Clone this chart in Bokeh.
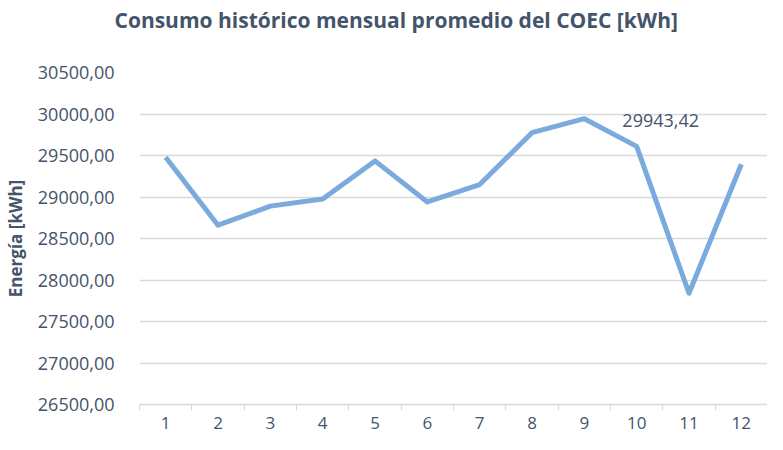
from bokeh.plotting import figure
from bokeh.embed import file_html
from bokeh.resources import INLINE
from bokeh.models import FixedTicker, Range1d, ColumnDataSource, Title
from bokeh.core.properties import value

title_text = "Consumo histórico mensual promedio del COEC [kWh]"
months = [1, 2, 3, 4, 5, 6, 7, 8, 9, 10, 11, 12]
consumo = [29480, 28660, 28890, 28975, 29435, 28940, 29150, 29775, 29943.42, 29610, 27840, 29395]
y_ticks = [26500, 27000, 27500, 28000, 28500, 29000, 29500, 30000, 30500]
label_month = [9]
label_value = [29943.42]

def fmt(v):
    return f"{v:.2f}".replace(".", ",")

FONT = "Open Sans"
TXT = "#44546A"
GRID = "#D9D9D9"

W, H = 767, 434
LEFT, TOP, BOTTOM = 138, 72, 30

p = figure(width=W, height=H, output_backend="svg", toolbar_location=None,
           x_range=Range1d(0.5, 12.5), y_range=Range1d(26500, 30500),
           min_border_left=LEFT, min_border_right=0, min_border_top=TOP, min_border_bottom=BOTTOM)
p.outline_line_color = None
p.title.text = ""

# spacer between frame and title, then the real title (stacked outward)
p.add_layout(Title(text=" ", text_font_size="1px", standoff=36), "above")
p.add_layout(Title(text=title_text, text_font=FONT, text_font_size="21px",
                   text_font_style="bold", text_color=TXT, align="left",
                   offset=-25, standoff=0), "above")

p.line(months, consumo, line_color="#7BAADD", line_width=5, line_join="round")

src = ColumnDataSource(dict(x=label_month, y=label_value, t=[fmt(v) for v in label_value]))
p.text("x", "y", text="t", source=src, x_offset=38, y_offset=2,
       text_font=value(FONT), text_font_size="18px", text_color=TXT,
       text_baseline="middle", text_align="left")

# x axis
p.xaxis.ticker = FixedTicker(ticks=months, minor_ticks=[m + 0.5 for m in [0] + months])
p.xaxis.major_label_overrides = {m: str(m) for m in months}
p.xaxis.major_tick_line_color = None
p.xaxis.minor_tick_line_color = GRID
p.xaxis.minor_tick_in = 0
p.xaxis.minor_tick_out = 6
p.xaxis.axis_line_color = GRID
p.xaxis.axis_line_width = 1.5
p.xaxis.major_label_text_font = FONT
p.xaxis.major_label_text_font_size = "17px"
p.xaxis.major_label_text_color = TXT
p.xaxis.major_label_standoff = 6

# y axis
p.yaxis.ticker = FixedTicker(ticks=y_ticks)
p.yaxis.major_label_overrides = {t: fmt(t) for t in y_ticks}
p.yaxis.axis_line_color = None
p.yaxis.major_tick_line_color = None
p.yaxis.minor_tick_line_color = None
p.yaxis.major_label_text_font = FONT
p.yaxis.major_label_text_font_size = "18px"
p.yaxis.major_label_text_color = TXT
p.yaxis.major_label_standoff = 19
p.yaxis.axis_label = "Energía [kWh]"
p.yaxis.axis_label_text_font = FONT
p.yaxis.axis_label_text_font_style = "bold"
p.yaxis.axis_label_text_font_size = "17px"
p.yaxis.axis_label_text_color = TXT
p.yaxis.axis_label_standoff = 8

p.xgrid.grid_line_color = None
p.ygrid.grid_line_color = GRID
p.ygrid.grid_line_width = 1.5

open("out.html", "w").write(file_html(p, INLINE))
